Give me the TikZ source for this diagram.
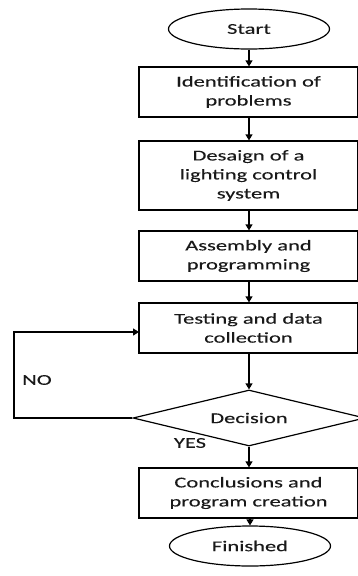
\documentclass[tikz,border=0pt]{standalone}
\usepackage{fontspec}
\setmainfont{Carlito}[FakeStretch=1.5,FakeBold=0.2]
\usetikzlibrary{shapes.geometric,arrows.meta}
\begin{document}
\begin{tikzpicture}[x=1pt,y=-1pt,
  every node/.style={font=\fontsize{15}{19}\selectfont, text=black!90},
  box/.style={draw, line width=1.2pt, minimum width=219pt, align=center, inner sep=0pt},
  term/.style={draw, ellipse, line width=1.2pt, minimum width=161pt, minimum height=40pt, inner sep=0pt},
  dec/.style={draw, diamond, aspect=4.14, line width=1.2pt, minimum width=232pt, minimum height=56pt, inner sep=0pt},
  conn/.style={line width=1.2pt, -{Triangle[length=6pt,width=7pt]}},
  lbl/.style={font=\fontsize{15}{19}\selectfont}]
\useasboundingbox (0,0) rectangle (357,576);
\node[term] (start) at (249,29) {Start};
\node[box, minimum height=50pt] (b1) at (248.5,92) {Identification of\\problems};
\node[box, minimum height=69pt] (b2) at (248.5,175.5) {Desaign of a\\lighting control\\system};
\node[box, minimum height=50pt] (b3) at (248.5,256) {Assembly and\\programming};
\node[box, minimum height=50pt] (b4) at (248.5,328) {Testing and data\\collection};
\node[dec] (d) at (249,418) {Decision};
\node[box, minimum height=50pt] (b5) at (248.5,493) {Conclusions and\\program creation};
\node[term] (fin) at (250,546) {Finished};
\node[lbl] (no) at (37,380) {NO};
\node[lbl] (yes) at (190,443) {YES};
\coordinate (lc) at (14,418);
\coordinate (lt) at (14,332);
\coordinate (in4) at (139,332);
\draw[conn] (start.south) -- (b1.north -| start.south);
\draw[conn] (b1.south -| start.south) -- (b2.north -| start.south);
\draw[conn] (b2.south -| start.south) -- (b3.north -| start.south);
\draw[conn] (b3.south -| start.south) -- (b4.north -| start.south);
\draw[conn] (b4.south -| start.south) -- (d.north);
\draw[conn] (d.south) -- (b5.north -| d.south);
\draw[conn] (b5.south -| fin.north) -- (fin.north);
\draw[conn] (d.west) -- (lc) -- (lt) -- (in4);
\end{tikzpicture}
\end{document}
